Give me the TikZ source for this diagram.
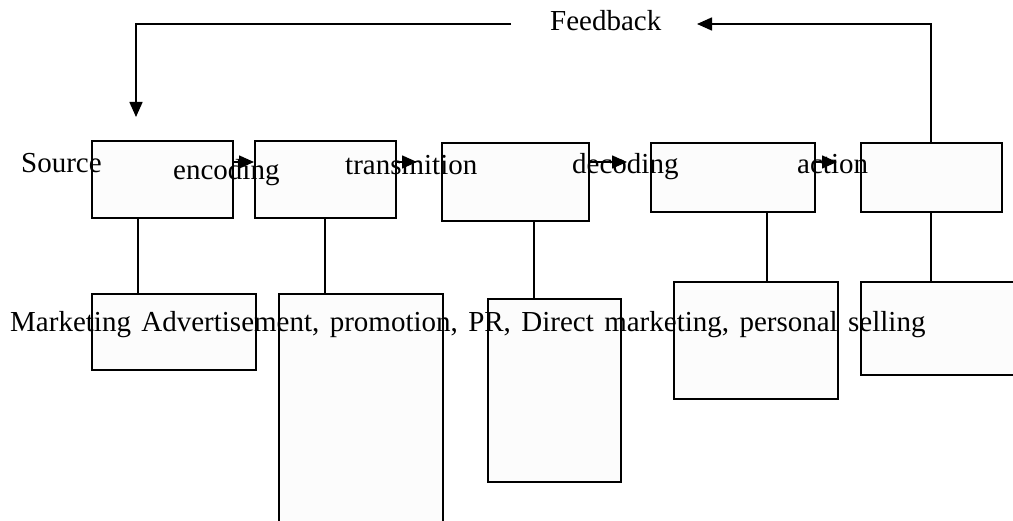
\documentclass[tikz,border=0pt]{standalone}
\usepackage{fontspec}
\setmainfont{Liberation Serif}
\usetikzlibrary{arrows.meta}
\definecolor{boxfill}{HTML}{FCFCFC}
\begin{document}
\begin{tikzpicture}[x=1pt,y=-1pt,
  box/.style={draw=black,line width=1.6pt,fill=boxfill,anchor=north west,inner sep=0pt,rectangle},
  lbl/.style={anchor=base west,inner sep=0pt,font=\fontsize{29}{34}\selectfont},
  conn/.style={draw=black,line width=1.6pt},
  arr/.style={conn,-{Triangle[length=15pt,width=13pt]}}]
\useasboundingbox (0,0) rectangle (1013,521);
% top row boxes
\node[box,minimum width=141pt,minimum height=77pt] (b1) at (91,140) {};
\node[box,minimum width=141pt,minimum height=77pt] (b2) at (254,140) {};
\node[box,minimum width=147pt,minimum height=78pt] (b3) at (441,142) {};
\node[box,minimum width=164pt,minimum height=69pt] (b4) at (650,142) {};
\node[box,minimum width=141pt,minimum height=69pt] (b5) at (860,142) {};
% bottom row boxes
\node[box,minimum width=164pt,minimum height=76pt] (m1) at (91,293) {};
\node[box,minimum width=164pt,minimum height=240pt] (m2) at (278,293) {};
\node[box,minimum width=133pt,minimum height=183pt] (m3) at (487,298) {};
\node[box,minimum width=164pt,minimum height=117pt] (m4) at (673,281) {};
\node[box,minimum width=160pt,minimum height=93pt] (m5) at (860,281) {};
% connector positions
\coordinate (x1) at (138,0);
\coordinate (x2) at (325,0);
\coordinate (x3) at (534,0);
\coordinate (x4) at (767,0);
\coordinate (x5) at (931,0);
\coordinate (ay) at (0,162);
\draw[conn] (x1 |- b1.south) -- (x1 |- m1.north);
\draw[conn] (x2 |- b2.south) -- (x2 |- m2.north);
\draw[conn] (x3 |- b3.south) -- (x3 |- m3.north);
\draw[conn] (x4 |- b4.south) -- (x4 |- m4.north);
\draw[conn] (x5 |- b5.south) -- (x5 |- m5.north);
% forward arrows
\coordinate (t1) at (254,162);
\coordinate (t2) at (417,162);
\coordinate (t3) at (627,162);
\coordinate (t4) at (837,162);
\draw[arr] (b1.east |- ay) -- (t1);
\draw[arr] (b2.east |- ay) -- (t2);
\draw[arr] (b3.east |- ay) -- (t3);
\draw[arr] (b4.east |- ay) -- (t4);
% feedback
\node[lbl] (fb) at (550,31) {Feedback};
\coordinate (fr) at (931,24);
\coordinate (ft) at (697,24);
\coordinate (fl0) at (511,24);
\coordinate (fl1) at (136,24);
\coordinate (fl2) at (136,117);
\draw[arr] (x5 |- b5.north) -- (fr) -- (ft);
\draw[arr] (fl0) -- (fl1) -- (fl2);
% labels
\node[lbl] (src) at (21,173) {Source};
\node[lbl] (enc) at (173,180) {encoding};
\node[lbl] (trn) at (345,175) {transmition};
\node[lbl] (dec) at (572,174) {decoding};
\node[lbl] (act) at (797,174) {action};
\node[lbl] (mkt) at (10,332) {\spaceskip=10.4pt\relax Marketing Advertisement, promotion, PR, Direct marketing, personal selling};
\end{tikzpicture}
\end{document}
